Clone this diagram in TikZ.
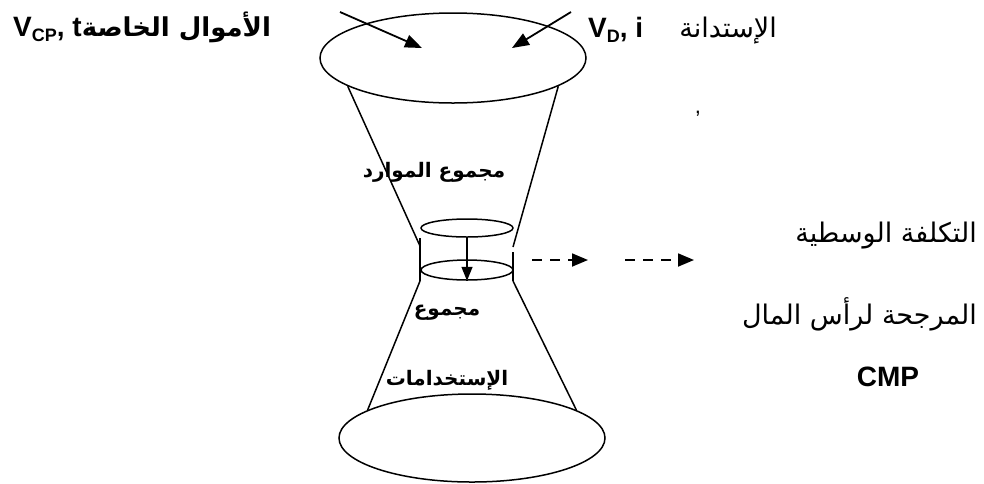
\documentclass[tikz,border=0pt]{standalone}
\usepackage{fontspec}
\setmainfont{Liberation Sans}
\newfontfamily\arabicfont[Script=Arabic]{DejaVu Sans}
\TeXXeTstate=1
\usetikzlibrary{arrows.meta, positioning, shapes.geometric}
\tikzset{
  contorno/.style={draw=black, line width=1.5pt},
  flecha/.style={-{Triangle[length=17pt, width=13pt]}, line width=1.8pt},
  flechaPunteada/.style={-{Triangle[length=16pt, width=13pt]}, line width=1.8pt,
    dash pattern=on 10pt off 8pt},
  flechaCuello/.style={-{Triangle[length=14pt, width=11pt]}, line width=1.5pt},
  etiquetaNegrita/.style={inner sep=0pt, font=\fontsize{28}{30}\selectfont\bfseries},
  etiquetaArabe/.style={inner sep=0pt, font=\fontsize{27}{29}\selectfont\arabicfont},
  etiquetaArabeNegrita/.style={inner sep=0pt, font=\fontsize{20}{22}\selectfont\arabicfont\bfseries},
}
\newcommand{\sub}[1]{\raisebox{-0.35ex}{\fontsize{18}{18}\selectfont #1}}

\begin{document}
\begin{tikzpicture}[x=1pt, y=-1pt]
    \useasboundingbox (0,0) rectangle (984,483);

    % reloj de arena: recursos arriba, usos abajo
    \node[contorno, ellipse, minimum width=266pt, minimum height=90pt, inner sep=0pt] (recursos) at (453,58) {};
    \node[contorno, ellipse, minimum width=266pt, minimum height=88pt, inner sep=0pt] (usos) at (472,438) {};
    \node[contorno, ellipse, minimum width=92pt, minimum height=18pt, inner sep=0pt] (cuelloSup) at (467,228) {};
    \node[contorno, ellipse, minimum width=92pt, minimum height=20pt, inner sep=0pt] (cuelloInf) at (467,270) {};

    \coordinate (ci1) at (420,238);
    \coordinate (ci2) at (420,281);
    \coordinate (cd1) at (513,252);
    \coordinate (cd2) at (513,281);
    \draw[contorno] (ci1) -- (ci2);
    \draw[contorno] (cd1) -- (cd2);
    \draw[contorno] (recursos.195) -- (420,246);
    \draw[contorno] (recursos.-15) -- (513,247);
    \draw[contorno] (ci2) -- (usos.165);
    \draw[contorno] (cd2) -- (usos.15);
    \draw[flechaCuello] (cuelloSup.south) -- (cuelloInf.south);

    % flujos de entrada
    \coordinate (entradaPropia) at (340,12);
    \coordinate (llegadaPropia) at (422,48);
    \coordinate (entradaDeuda) at (571,12);
    \coordinate (llegadaDeuda) at (512,48);
    \draw[flecha] (entradaPropia) -- (llegadaPropia);
    \draw[flecha] (entradaDeuda) -- (llegadaDeuda);

    % salida hacia el costo medio
    \coordinate (salida1) at (532,260);
    \coordinate (llegada1) at (588,260);
    \coordinate (salida2) at (625,260);
    \coordinate (llegada2) at (694,260);
    \draw[flechaPunteada] (salida1) -- (llegada1);
    \draw[flechaPunteada] (salida2) -- (llegada2);

    % etiquetas
    \node[etiquetaNegrita, anchor=west] (propios) at (13,27)
      {V\sub{CP}, t{\arabicfont\fontsize{26}{28}\selectfont\beginR الأموال الخاصة\endR}};
    \node[etiquetaNegrita, anchor=west] (deuda) at (588,30) {V\sub{D}, i};
    \node[etiquetaArabe, anchor=east] (deudaTexto) at (777,31) {\beginR الإستدانة\endR};
    \node[inner sep=0pt, font=\fontsize{22}{24}\selectfont] (coma) at (698,114) {,};
    \node[etiquetaArabeNegrita] (sumaRecursos) at (434,172) {\beginR مجموع الموارد\endR};
    \node[etiquetaArabeNegrita] (sumaUsos) at (447,313) {\beginR مجموع\endR};
    \node[etiquetaArabeNegrita] (usosTexto) at (447,380) {\beginR الإستخدامات\endR};
    \node[etiquetaArabe, anchor=east] (cmp1) at (977,236) {\beginR التكلفة الوسطية\endR};
    \node[etiquetaArabe, anchor=east] (cmp2) at (977,314) {\beginR المرجحة لرأس المال\endR};
    \node[etiquetaNegrita] (cmp3) at (888,377) {CMP};
\end{tikzpicture}
\end{document}
